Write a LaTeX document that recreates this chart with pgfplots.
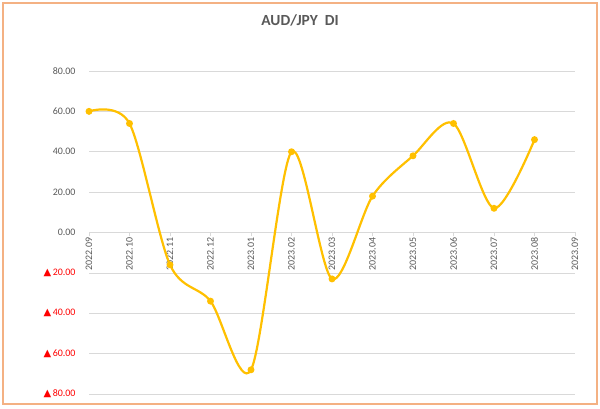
\documentclass[border=0pt]{standalone}
\usepackage{pgfplots}
\pgfplotsset{compat=1.18}
\usepackage{fontspec}
\setmainfont{Carlito}
\newfontfamily\sym{DejaVu Sans}
\definecolor{gold}{HTML}{FFC000}
\definecolor{lbl}{HTML}{595959}
\definecolor{grd}{HTML}{D9D9D9}
\definecolor{framec}{HTML}{F4B183}
\newcommand{\neglab}[1]{\textcolor{red}{{\sym\fontsize{10}{11}\selectfont ▲}\hspace{1.5bp}#1}}
\begin{document}
\begin{tikzpicture}[x=1bp,y=1bp]
\useasboundingbox (0,0) rectangle (600,408);
\fill[white] (0,0) rectangle (600,408);
\draw[framec, line width=1.2bp] (3,4) rectangle (597,405);
\node[font=\bfseries\fontsize{15.5}{18}\selectfont, text=lbl] at (300,388) {AUD/JPY\ \ DI};
\begin{axis}[
  at={(89bp,14bp)}, anchor=south west,
  scale only axis, width=486bp, height=323bp,
  xmin=0, xmax=12, ymin=-80, ymax=80,
  axis x line=middle, axis y line=left,
  hide obscured x ticks=false, hide obscured y ticks=false,
  x axis line style={-, draw=grd, line width=0.75bp},
  y axis line style={draw=none},
  xtick={0,...,12},
  xticklabels={2022.09,2022.10,2022.11,2022.12,2023.01,2023.02,2023.03,2023.04,2023.05,2023.06,2023.07,2023.08,2023.09},
  xticklabel style={rotate=90, anchor=east, font=\fontsize{10}{11}\selectfont, text=lbl, inner sep=1bp},
  x tick style={draw=grd, line width=0.75bp},
  tick align=outside,
  major tick length=4bp,
  ytick={-80,-60,...,80},
  yticklabels={\neglab{80.00},\neglab{60.00},\neglab{40.00},\neglab{20.00},0.00,20.00,40.00,60.00,80.00},
  yticklabel style={font=\fontsize{10}{12}\selectfont, text=lbl, xshift=-6bp},
  y tick style={draw=none},
  ymajorgrids, grid style={draw=grd, line width=0.75bp},
  clip=false,
]
\addplot[gold, line width=2.2bp, smooth, tension=0.5, mark=*, mark size=2.3bp, mark options={fill=gold, draw=gold}]
coordinates {(0,60) (1,54) (2,-16) (3,-34) (4,-68) (5,40) (6,-23) (7,18) (8,38) (9,54) (10,12) (11,46)};
\end{axis}
\end{tikzpicture}
\end{document}
